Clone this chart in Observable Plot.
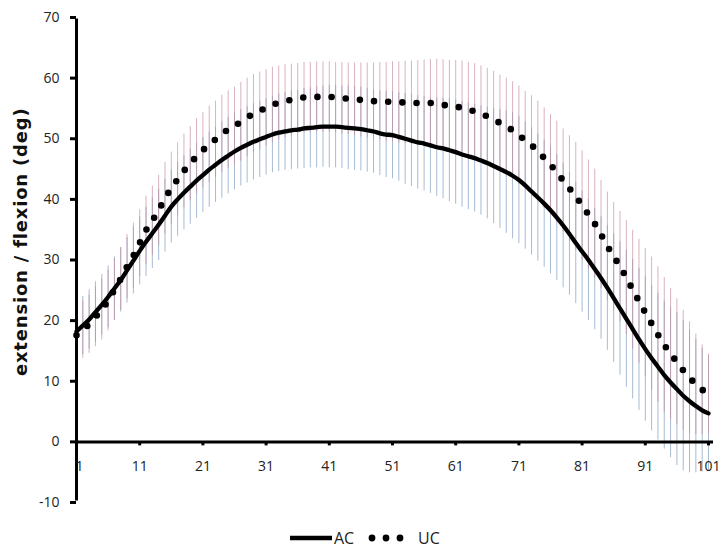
<!DOCTYPE html>
<html><head><meta charset="utf-8">
<script src="https://cdn.jsdelivr.net/npm/d3@7"></script>
<script src="https://cdn.jsdelivr.net/npm/@observablehq/plot@0.6"></script>
<style>
body{margin:0;background:#fff;font-family:"Open Sans",sans-serif;}
#wrap{position:relative;width:726px;height:552px;}
#legend{position:absolute;left:0;top:518px;width:726px;height:34px;}
</style></head><body>
<div id="wrap"><div id="chart"></div>
<svg id="legend" width="726" height="34">
  <line x1="290" y1="20" x2="332" y2="20" stroke="#000" stroke-width="4.5"/>
  <text x="334" y="26" font-family="Open Sans" font-size="16" fill="#222">AC</text>
  <circle cx="372" cy="20" r="3.4" fill="#000"/>
  <circle cx="386" cy="20" r="3.4" fill="#000"/>
  <circle cx="400" cy="20" r="3.4" fill="#000"/>
  <text x="418" y="26" font-family="Open Sans" font-size="16" fill="#222">UC</text>
</svg></div>
<script>
// AC and UC means and SDs per frame 1..101
const acMean = [18.2,19.2,20.2,21.4,22.6,23.9,25.3,26.7,28.3,29.9,
31.5,33.0,34.4,35.8,37.3,38.8,40.0,41.1,42.1,43.1,
44.0,44.9,45.7,46.5,47.2,47.9,48.5,49.0,49.5,49.9,
50.3,50.7,51.0,51.2,51.4,51.5,51.7,51.8,51.9,52.0,
52.0,52.0,51.9,51.8,51.7,51.6,51.4,51.2,50.9,50.7,
50.6,50.3,50.0,49.7,49.4,49.2,48.9,48.6,48.4,48.1,
47.8,47.4,47.1,46.8,46.4,46.0,45.5,45.0,44.5,43.9,
43.2,42.3,41.3,40.3,39.3,38.2,37.0,35.7,34.3,32.8,
31.4,30.0,28.5,27.0,25.4,23.7,22.0,20.3,18.6,16.9,
15.3,13.8,12.4,11.0,9.8,8.7,7.6,6.7,5.9,5.2,4.7];
const ucMean = [17.6,18.5,19.4,20.6,21.8,23.3,25.1,26.9,28.9,30.7,
32.8,34.9,36.5,38.2,40.2,41.8,43.3,44.7,45.9,47.1,
48.1,49.1,49.9,50.8,51.5,52.1,52.8,53.5,54.1,54.6,
55.1,55.6,55.9,56.2,56.4,56.6,56.8,56.8,56.9,56.9,
56.9,56.8,56.7,56.6,56.5,56.4,56.3,56.2,56.2,56.1,
56.1,56.0,56.0,55.9,55.9,55.9,55.9,55.8,55.6,55.4,
55.3,55.1,54.8,54.5,54.1,53.7,53.2,52.6,52.0,51.4,
50.6,49.7,48.9,48.0,46.8,45.7,44.5,43.1,41.8,40.5,
39.0,37.5,36.0,34.2,32.3,30.6,28.9,27.1,25.1,23.2,
21.3,19.5,17.7,16.0,14.5,13.2,11.8,10.6,9.5,8.6,7.9];
const acSD = [4.8,4.8,4.9,5.0,5.0,5.1,5.2,5.3,5.4,5.5,
5.6,5.7,5.8,5.9,6.0,6.0,6.1,6.1,6.2,6.2,
6.2,6.2,6.2,6.3,6.3,6.3,6.3,6.3,6.3,6.3,
6.3,6.3,6.4,6.4,6.5,6.5,6.6,6.6,6.7,6.7,
6.8,6.8,6.8,6.9,6.9,6.9,6.9,6.9,7.0,7.1,
7.2,7.3,7.5,7.6,7.7,7.8,7.9,8.1,8.3,8.5,
8.6,8.7,8.8,8.9,9.0,9.2,9.5,9.8,10.1,10.4,
10.5,10.5,10.5,10.5,10.5,10.5,10.4,10.3,10.1,10.0,
10.0,10.0,10.0,10.1,10.3,10.6,11.0,11.3,11.5,11.7,
11.9,12.0,12.1,12.2,12.4,12.6,12.4,11.8,11.0,10.2,9.4];
const ucSD = [4.6,4.7,4.8,4.9,5.0,5.0,5.1,5.2,5.3,5.4,
5.5,5.6,5.7,5.8,5.9,6.0,6.0,6.1,6.1,6.2,
6.2,6.3,6.3,6.4,6.4,6.4,6.5,6.5,6.5,6.4,
6.3,6.2,6.1,6.0,5.9,5.8,5.8,5.8,5.8,5.8,
5.8,5.8,5.9,5.9,6.0,6.1,6.2,6.3,6.4,6.5,
6.6,6.7,6.8,6.9,7.0,7.1,7.2,7.3,7.4,7.5,
7.6,7.7,7.8,7.9,7.9,7.9,7.9,7.9,8.0,8.0,
8.1,8.1,8.2,8.2,8.3,8.3,8.4,8.5,8.7,8.9,
9.0,9.0,9.0,8.9,8.9,8.9,9.1,9.4,9.8,10.2,
10.6,11.0,11.2,11.1,10.8,10.4,9.9,9.2,8.3,7.4,6.6];
const xTicks = [1,11,21,31,41,51,61,71,81,91,101];
const yTicks = [-10,0,10,20,30,40,50,60,70];
const yLabel = "extension / flexion (deg)";

const ac = acMean.map((v,i)=>({x:i+1, m:v, sd:acSD[i]}));
const uc = ucMean.map((v,i)=>({x:i+1, m:v, sd:ucSD[i]}));

const plot = Plot.plot({
  width: 726, height: 515,
  marginLeft: 76, marginRight: 18, marginTop: 17, marginBottom: 13,
  x: {domain: [1, 101], axis: null},
  y: {domain: [-10, 70], axis: null},
  style: {fontFamily: "Open Sans", fontSize: "14px", color: "#222", background: "#fff"},
  marks: [
    Plot.ruleX(ac, {x: "x", y1: d=>d.m-d.sd, y2: d=>d.m+d.sd, stroke: "#8aa4c4", strokeOpacity: 0.75, strokeWidth: 1}),
    Plot.ruleX(uc, {x: "x", y1: d=>d.m-d.sd, y2: d=>d.m+d.sd, stroke: "#c38a9a", strokeOpacity: 0.65, strokeWidth: 1}),
    Plot.ruleY([0], {stroke: "#000", strokeWidth: 3, insetRight: -5}),
    Plot.ruleX(xTicks, {x: d=>d, y1: 0, y2: 0, insetBottom: -4, stroke: "#000", strokeWidth: 3}),
    Plot.ruleX([1], {y1: -10, y2: 70, stroke: "#000", strokeWidth: 3, insetTop: -1.5, insetBottom: -1.5}),
    Plot.text(xTicks.slice(1), {x: d=>d, y: 0, dy: 25, text: d=>String(d), fill: "#222", fontSize: 14}),
    Plot.text(xTicks.slice(0, 1), {x: d=>d, y: 0, dy: 25, dx: 3, text: d=>String(d), fill: "#222", fontSize: 14}),
    Plot.ruleY(yTicks, {y: d=>d, x1: 1, x2: 1, insetLeft: -6, stroke: "#000", strokeWidth: 3}),
    Plot.text(yTicks, {x: 1, y: d=>d, dx: -17, textAnchor: "end", text: d=>String(d), fill: "#222", fontSize: 14}),
    Plot.text([yLabel], {x: 1, y: 33, dx: -55, rotate: -90, text: d=>d, fontSize: 18, fontWeight: "bold", fill: "#111", fontFamily: "DejaVu Sans"}),
    Plot.line(ac, {x: "x", y: "m", stroke: "#000", strokeWidth: 4.3, curve: "monotone-x"}),
    Plot.line(uc, {x: "x", y: "m", stroke: "#000", strokeWidth: 6.6, strokeDasharray: "0 14.2", strokeLinecap: "round", curve: "monotone-x"})
  ]
});
plot.querySelectorAll("text").forEach(t => { if (t.textContent === yLabel) t.setAttribute("letter-spacing", "0.8"); });
document.getElementById("chart").appendChild(plot);
</script>
</body></html>
